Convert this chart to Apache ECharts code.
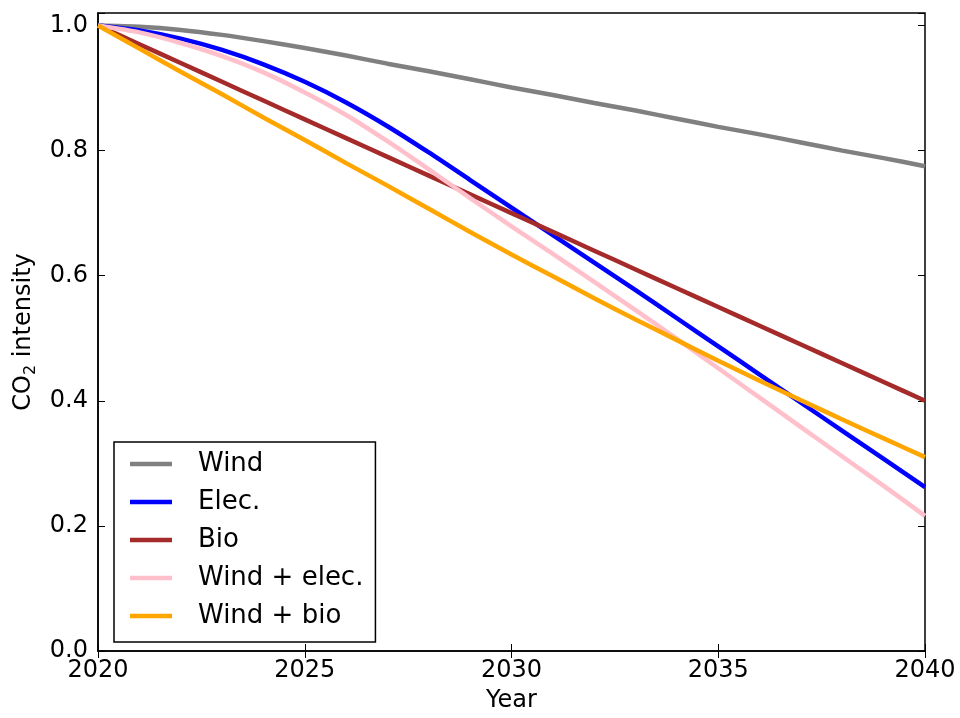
<!DOCTYPE html>
<html>
<head>
<meta charset="utf-8">
<script src="https://cdn.jsdelivr.net/npm/echarts@6/dist/echarts.min.js"></script>
<style>
  html, body { margin: 0; padding: 0; background: #fff; }
  #chart { width: 960px; height: 718px; }
</style>
</head>
<body>
<div id="chart"></div>
<script>
// Projected CO2 intensity of the different decarbonisation pathways, 2020-2040
const years = [2020, 2021, 2022, 2023, 2024, 2025, 2026, 2027, 2028, 2029, 2030,
               2031, 2032, 2033, 2034, 2035, 2036, 2037, 2038, 2039, 2040];

const seriesNames = ['Wind', 'Elec.', 'Bio', 'Wind + elec.', 'Wind + bio'];

const wind = [1.000, 0.998, 0.993, 0.985, 0.975, 0.964, 0.952, 0.939, 0.927, 0.914, 0.901,
              0.889, 0.876, 0.864, 0.851, 0.838, 0.826, 0.813, 0.800, 0.788, 0.775];
const elec = [1.000, 0.992, 0.979, 0.961, 0.938, 0.910, 0.877, 0.839, 0.797, 0.753, 0.709,
              0.665, 0.621, 0.577, 0.532, 0.487, 0.442, 0.397, 0.352, 0.307, 0.262];
const bio = [1.000, 0.970, 0.940, 0.910, 0.880, 0.850, 0.820, 0.790, 0.760, 0.730, 0.700,
             0.670, 0.640, 0.610, 0.580, 0.550, 0.520, 0.490, 0.460, 0.430, 0.400];
const windElec = [1.000, 0.989, 0.972, 0.951, 0.925, 0.893, 0.857, 0.815, 0.770, 0.724, 0.679,
                  0.635, 0.590, 0.545, 0.499, 0.452, 0.405, 0.358, 0.311, 0.264, 0.216];
const windBio = [1.000, 0.963, 0.926, 0.890, 0.853, 0.817, 0.780, 0.744, 0.707, 0.670, 0.634,
                 0.599, 0.564, 0.530, 0.497, 0.464, 0.432, 0.401, 0.370, 0.340, 0.310];

const xTicks = [2020, 2025, 2030, 2035, 2040];
const yTicks = [0.0, 0.2, 0.4, 0.6, 0.8, 1.0];

const colors = ['#808080', '#0000ff', '#a52a2a', '#ffc0cb', '#ffa500'];
const values = [wind, elec, bio, windElec, windBio];

const FONT = 'DejaVu Sans';

const chart = echarts.init(document.getElementById('chart'), null, { renderer: 'canvas' });

const tickStyle = { show: true, inside: true, length: 7, lineStyle: { color: '#000', width: 1 } };

const option = {
  animation: false,
  backgroundColor: '#fff',
  textStyle: { fontFamily: FONT },
  grid: {
    left: 98, right: 35, top: 13, bottom: 64,
    show: true, borderColor: '#000', borderWidth: 1.5, backgroundColor: 'transparent'
  },
  legend: {
    orient: 'vertical',
    left: 114, top: 442,
    padding: [9, 12, 13, 16],
    borderColor: '#000', borderWidth: 1.5, backgroundColor: '#fff',
    icon: 'rect', itemWidth: 42, itemHeight: 4.5, itemGap: 12,
    data: seriesNames,
    textStyle: { fontFamily: FONT, fontSize: 26, color: '#000', lineHeight: 26, padding: [0, 0, 0, 21] }
  },
  xAxis: [{
    type: 'value', position: 'bottom',
    min: xTicks[0], max: xTicks[xTicks.length - 1], interval: 5,
    name: 'Year', nameLocation: 'middle', nameGap: 38,
    nameTextStyle: { fontFamily: FONT, fontSize: 24, color: '#000' },
    axisLine: { show: true, onZero: false, lineStyle: { color: '#000', width: 1.5 } },
    axisTick: tickStyle,
    axisLabel: { fontFamily: FONT, fontSize: 24, color: '#000', margin: 8,
                 formatter: v => String(v) },
    splitLine: { show: false }
  }, {
    type: 'value', position: 'top',
    min: xTicks[0], max: xTicks[xTicks.length - 1], interval: 5,
    axisLine: { show: false }, axisTick: tickStyle,
    axisLabel: { show: false }, splitLine: { show: false }
  }],
  yAxis: [{
    type: 'value', position: 'left',
    min: yTicks[0], max: 1.02, interval: 0.2,
    name: 'CO{sub|2} intensity', nameLocation: 'middle', nameRotate: 90, nameGap: 58,
    nameTextStyle: {
      fontFamily: FONT, fontSize: 24, color: '#000',
      rich: { sub: { fontFamily: FONT, fontSize: 16, color: '#000', verticalAlign: 'bottom', padding: [14, 0, 0, 0] } }
    },
    axisLine: { show: true, onZero: false, lineStyle: { color: '#000', width: 1.5 } },
    axisTick: tickStyle,
    axisLabel: {
      fontFamily: FONT, fontSize: 24, color: '#000', margin: 10,
      formatter: v => (v > yTicks[yTicks.length - 1] + 1e-6 ? '' : v.toFixed(1))
    },
    splitLine: { show: false }
  }, {
    type: 'value', position: 'right',
    min: yTicks[0], max: 1.02, interval: 0.2,
    axisLine: { show: false }, axisTick: tickStyle,
    axisLabel: { show: false }, splitLine: { show: false }
  }],
  series: seriesNames.map((name, i) => ({
    name: name,
    type: 'line',
    xAxisIndex: 0, yAxisIndex: 0,
    data: years.map((y, k) => [y, values[i][k]]),
    showSymbol: false, symbol: 'none',
    smooth: 0.25,
    itemStyle: { color: colors[i] },
    lineStyle: { color: colors[i], width: 4.5 },
    emphasis: { disabled: true }
  }))
};

chart.setOption(option);
</script>
</body>
</html>
